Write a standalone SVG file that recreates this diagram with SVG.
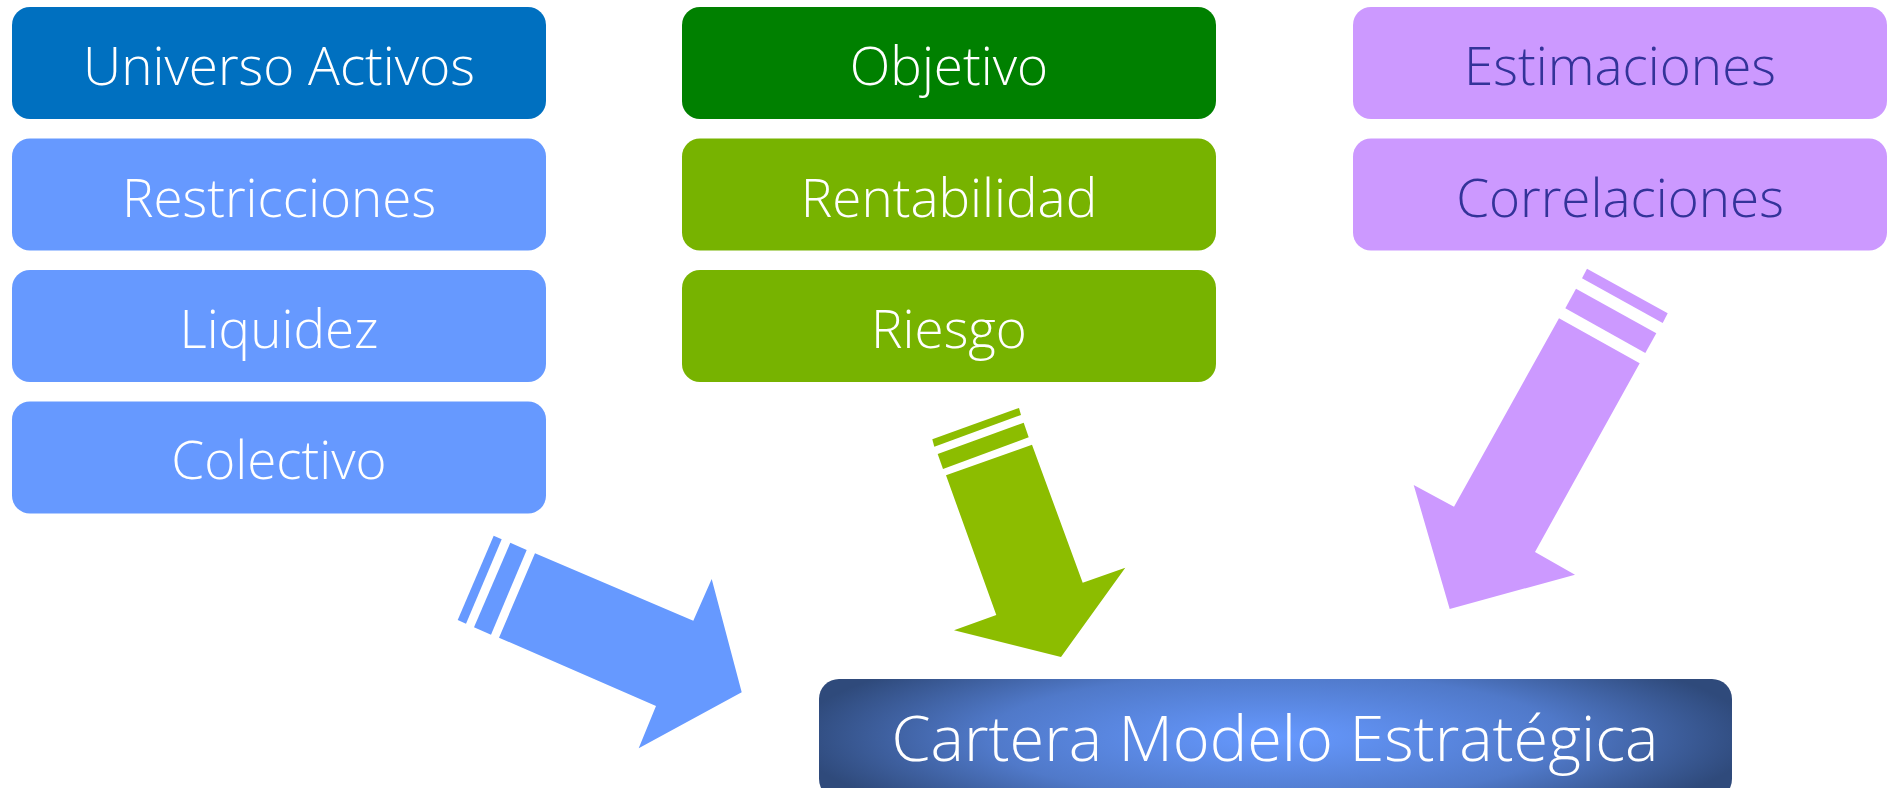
<svg xmlns="http://www.w3.org/2000/svg" width="1888" height="788" viewBox="0 0 1888 788">
<defs>
<style>
.box{stroke:none}
.t{font-family:"Open Sans","Liberation Sans",sans-serif;font-weight:300;font-size:53px;text-anchor:middle;fill:#ffffff}
.tp{fill:#333399}
.big{font-size:63px}
.dark{fill:#0070C0}
.blue{fill:#6699FF}
.dgreen{fill:#008000}
.lgreen{fill:#77B300}
.purple{fill:#CC99FF}
.ablue{fill:#6699FF}
.agreen{fill:#8CBD00}
.apurple{fill:#CC99FF}
</style>
<radialGradient id="cmg" cx="1275" cy="737" r="480" gradientUnits="userSpaceOnUse" gradientTransform="translate(1275 737) scale(1 0.22) translate(-1275 -737)">
<stop offset="0" stop-color="#6699FF"/>
<stop offset="0.6" stop-color="#5079C9"/>
<stop offset="1" stop-color="#2F4A7B"/>
</radialGradient>
</defs>
<rect width="1888" height="788" fill="#ffffff"/>

<g id="universo-activos"><rect class="box dark" x="12" y="7" width="534" height="112" rx="18"/><text class="t" x="279" y="85">Universo Activos</text></g>
<g id="restricciones"><rect class="box blue" x="12" y="138.5" width="534" height="112" rx="18"/><text class="t" x="279" y="217">Restricciones</text></g>
<g id="liquidez"><rect class="box blue" x="12" y="270" width="534" height="112" rx="18"/><text class="t" x="279" y="348">Liquidez</text></g>
<g id="colectivo"><rect class="box blue" x="12" y="401.5" width="534" height="112" rx="18"/><text class="t" x="279" y="479">Colectivo</text></g>

<g id="objetivo"><rect class="box dgreen" x="682" y="7" width="534" height="112" rx="18"/><text class="t" x="949" y="85">Objetivo</text></g>
<g id="rentabilidad"><rect class="box lgreen" x="682" y="138.5" width="534" height="112" rx="18"/><text class="t" x="949" y="217">Rentabilidad</text></g>
<g id="riesgo"><rect class="box lgreen" x="682" y="270" width="534" height="112" rx="18"/><text class="t" x="949" y="348">Riesgo</text></g>

<g id="estimaciones"><rect class="box purple" x="1353" y="7" width="534" height="112" rx="18"/><text class="t tp" x="1620" y="85">Estimaciones</text></g>
<g id="correlaciones"><rect class="box purple" x="1353" y="138.5" width="534" height="112" rx="18"/><text class="t tp" x="1620" y="217">Correlaciones</text></g>

<g id="cartera-modelo"><rect x="819" y="679" width="913" height="120" rx="20" fill="url(#cmg)"/><text class="t big" x="1275" y="761">Cartera Modelo Estratégica</text></g>

<g id="connectors">
<g id="arrow-blue" class="ablue">
<polygon points="535,553.3 693.3,620.7 711.7,579 741.7,692.3 638.7,748.3 656,706 499,637.7"/>
<polygon points="510.3,542.7 526.7,550 491,634.7 474,627.3"/>
<polygon points="493.7,535.7 501.7,539.3 466,623.7 457.7,620"/>
</g>
<g id="arrow-green" class="agreen">
<polygon points="946,475.3 1032,444.7 1082.7,582.7 1125.3,567.7 1061,657 954,630.3 996.3,615"/>
<polygon points="937.7,454 1023.7,422.7 1028.7,437.3 943,469"/>
<polygon points="932.3,439.3 1019,408 1021,415 934.3,446.7"/>
</g>
<g id="arrow-purple" class="apurple">
<polygon points="1559,318.3 1639.7,363.3 1535,552 1575,574.7 1449.7,609 1413.7,485 1454,506.7"/>
<polygon points="1576,288.7 1656.3,333.3 1645.3,353 1565.3,308.3"/>
<polygon points="1587,268.7 1667.7,313.3 1662.7,323 1582,278.3"/>
</g>
</g>
</svg>
